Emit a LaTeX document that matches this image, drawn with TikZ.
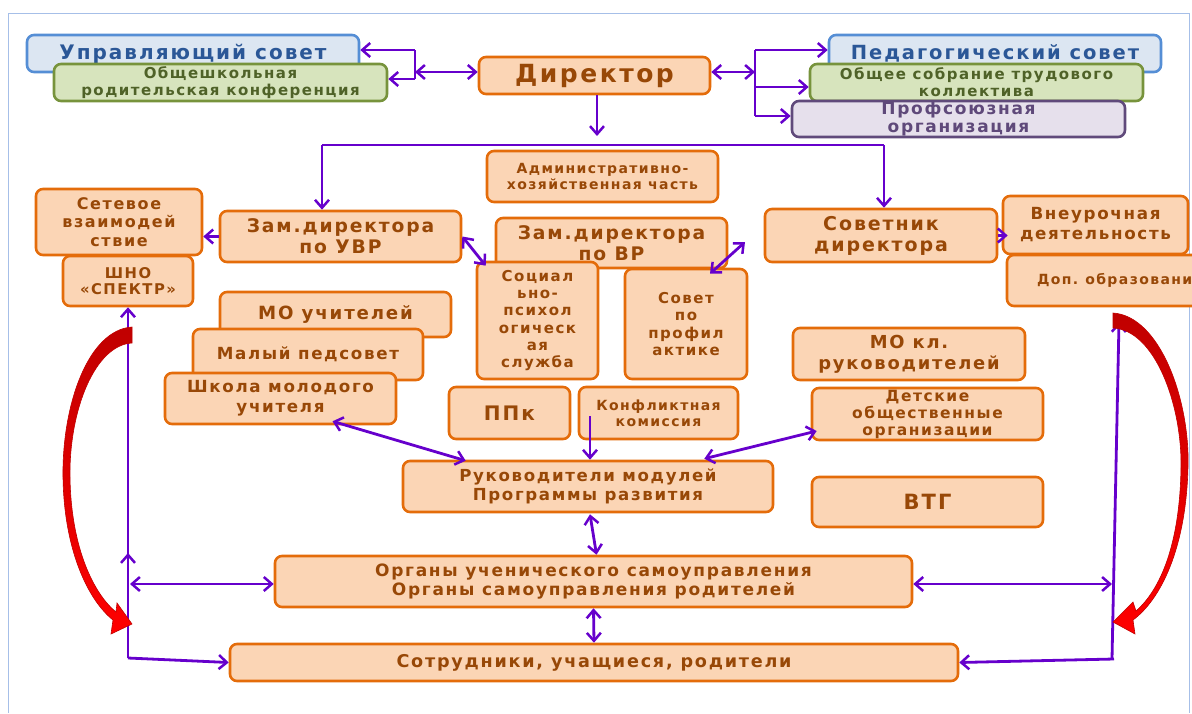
\documentclass[tikz,border=0pt]{standalone}
\usepackage{fontspec}
\setmainfont{DejaVu Sans}[LetterSpace=10]
\usetikzlibrary{arrows.meta}
\definecolor{orfill}{HTML}{FBD5B5}
\definecolor{ordraw}{HTML}{E46C0A}
\definecolor{ortext}{HTML}{984807}
\definecolor{blfill}{HTML}{DCE6F2}
\definecolor{bldraw}{HTML}{558ED5}
\definecolor{bltext}{HTML}{2B5797}
\definecolor{grfill}{HTML}{D7E4BD}
\definecolor{grdraw}{HTML}{77933C}
\definecolor{grtext}{HTML}{4F6228}
\definecolor{pufill}{HTML}{E6E0EC}
\definecolor{pudraw}{HTML}{604A7B}
\definecolor{putext}{HTML}{5F497A}
\definecolor{arrcol}{HTML}{6600CC}
\definecolor{frameblue}{HTML}{A6BFE8}
\definecolor{dred}{HTML}{C00000}
\definecolor{bred}{HTML}{FF0000}
\newcommand\fsz[2]{\fontsize{#1}{#2}\selectfont\bfseries}
\begin{document}
\begin{tikzpicture}[x=1pt,y=-1pt,
  box/.style={rounded corners=7pt, line width=2.6pt, inner sep=0pt, align=center},
  obox/.style={box, draw=ordraw, fill=orfill, text=ortext},
  bbox/.style={box, draw=bldraw, fill=blfill, text=bltext},
  gbox/.style={box, draw=grdraw, fill=grfill, text=grtext},
  pbox/.style={box, draw=pudraw, fill=pufill, text=putext},
  con/.style={draw=arrcol, line width=2.8pt, >={Straight Barb[length=8pt,width=14pt,line width=2.5pt]}},
  redarr/.style={top color=dred, bottom color=bred, draw=dred, line width=0.6pt},
]
\useasboundingbox (0,0) rectangle (1192,713);
\draw[frameblue, line width=1pt] (8,713) -- (8,13) -- (1189,13) -- (1189,713);

% top row
\node[bbox, minimum width=332pt, minimum height=37pt, font=\fsz{20}{23}] (us) at (193,53.5) {Управляющий совет};
\node[gbox, minimum width=333pt, minimum height=37pt, font=\fsz{15}{17}] (orc) at (220.5,82.5) {Общешкольная\\родительская конференция};
\node[obox, minimum width=231pt, minimum height=37pt, font=\fsz{25}{28}] (dir) at (594.5,75.5) {Директор};
\node[bbox, minimum width=332pt, minimum height=37pt, font=\fsz{19.5}{23}] (ps) at (995,53.5) {Педагогический совет};
\node[gbox, minimum width=333pt, minimum height=37pt, font=\fsz{15}{17}] (ostk) at (976.5,82.5) {Общее собрание трудового\\коллектива};
\node[pbox, minimum width=333pt, minimum height=36pt, font=\fsz{17}{18}] (prof) at (958.5,119) {Профсоюзная\\организация};

% second level
\node[obox, minimum width=231pt, minimum height=51pt, font=\fsz{14}{16}] (ahch) at (602.5,176.5) {Административно-\\хозяйственная часть};
\node[obox, minimum width=166pt, minimum height=66pt, font=\fsz{16}{18.5}] (setevoe) at (119,222) {Сетевое\\взаимодей\\ствие};
\node[obox, minimum width=130pt, minimum height=50pt, font=\fsz{14.8}{16}] (shno) at (128,281) {ШНО\\«СПЕКТР»};
\node[obox, minimum width=241pt, minimum height=51pt, font=\fsz{18.7}{21}] (zuvr) at (340.5,236.5) {Зам.директора\\по УВР};
\node[obox, minimum width=231pt, minimum height=50pt, font=\fsz{18.7}{21}] (zvr) at (611.5,243) {Зам.директора\\по ВР};
\node[obox, minimum width=121pt, minimum height=117pt, font=\fsz{15}{17.3}] (sps) at (537.5,320.5) {Социал\\ьно-\\психол\\огическ\\ая\\служба};
\node[obox, minimum width=122pt, minimum height=110pt, font=\fsz{15}{17.3}] (sovprof) at (686,324) {Совет\\по\\профил\\актике};
\node[obox, minimum width=232pt, minimum height=53pt, font=\fsz{19}{21}] (sovetnik) at (881,235.5) {Советник\\директора};
\node[obox, minimum height=51pt, font=\fsz{14}{16}, text width=170pt, inner xsep=30pt, align=left] (dop) at (1122,280.5) {Доп. образовани};
\node[obox, minimum width=185pt, minimum height=58pt, font=\fsz{16.7}{20}] (vneur) at (1095.5,225) {Внеурочная\\деятельность};

% left stack
\node[obox, minimum width=231pt, minimum height=45pt, font=\fsz{18.2}{21}] (mou) at (335.5,314.5) {МО учителей};
\node[obox, minimum width=230pt, minimum height=51pt, font=\fsz{16.7}{20}] (mps) at (308,354.5) {Малый педсовет};
\node[obox, minimum width=231pt, minimum height=51pt, font=\fsz{16.7}{20}] (shmu) at (280.5,398.5) {Школа молодого\\учителя};

% middle row
\node[obox, minimum width=121pt, minimum height=52pt, font=\fsz{20}{22}] (ppk) at (509.5,413) {ППк};
\node[obox, minimum width=159pt, minimum height=52pt, font=\fsz{14}{16}] (konf) at (658.5,413) {Конфликтная\\комиссия};
\node[obox, minimum width=232pt, minimum height=52pt, font=\fsz{17.9}{21}] (mokl) at (909,354) {МО кл.\\руководителей};
\node[obox, minimum width=231pt, minimum height=52pt, font=\fsz{15.5}{17}] (detsk) at (927.5,414) {Детские\\общественные\\организации};

% lower
\node[obox, minimum width=370pt, minimum height=51pt, font=\fsz{16.6}{19}] (ruk) at (588,486.5) {Руководители модулей\\Программы развития};
\node[obox, minimum width=231pt, minimum height=50pt, font=\fsz{21}{23}] (vtg) at (927.5,502) {ВТГ};
\node[obox, minimum width=637pt, minimum height=51pt, font=\fsz{17}{19}] (organy) at (593.5,581.5) {Органы ученического самоуправления\\Органы самоуправления родителей};
\node[obox, minimum width=728pt, minimum height=37pt, font=\fsz{17.6}{19}] (sotr) at (594,662.5) {Сотрудники, учащиеся, родители};

% junction coordinates
\coordinate (jl) at (415,72);
\coordinate (jlt) at (415,50);
\coordinate (jlb) at (415,79);
\coordinate (jr) at (755,72);
\coordinate (jrt) at (755,50);
\coordinate (jrm) at (755,87);
\coordinate (jrb) at (755,116);
\coordinate (dd) at (597,136);
\coordinate (hl) at (322,145);
\coordinate (hr) at (884,145);
\coordinate (vrtip) at (745,242);
\coordinate (lb) at (128,658);
\coordinate (lu) at (128,553);
\coordinate (lm) at (130,584);
\coordinate (rb) at (1112,659);
\coordinate (rt) at (1119,322);
\coordinate (rm) at (1112,584);
\coordinate (kc) at (590,416);

% connectors at top
\draw[con] (jlt) -- (jlb);
\draw[con,<->] (jl) -- (dir.west |- jl);
\draw[con,->] (jlt) -- (us.east |- jlt);
\draw[con,->] (jlb) -- (orc.east |- jlb);
\draw[con] (jrt) -- (jrb);
\draw[con,<->] (dir.east |- jr) -- (jr);
\draw[con,->] (jrt) -- (ps.west |- jrt);
\draw[con,->] (jrm) -- (ostk.west |- jrm);
\draw[con,->] (jrb) -- (prof.west |- jrb);
\draw[con,->] (dir.south -| dd) -- (dd);
\draw[con] (hl) -- (hr);
\draw[con,->] (hl) -- (zuvr.north -| hl);
\draw[con,->] (hr) -- (sovetnik.north -| hr);

% middle connectors
\draw[con,->] (zuvr.west) -- (setevoe.east |- zuvr.west);
\draw[con,<->] (zuvr.east) -- ([shift={(10,5)}]sps.north west);
\draw[con,<->] (vrtip) -- ([shift={(24,6)}]sovprof.north);
\draw[con,->] (sovetnik.east) -- ([xshift=6pt]vneur.west |- sovetnik.east);
\draw[con,<->] ([shift={(52,-4)}]shmu.south) -- ([shift={(64,1)}]ruk.north west);
\draw[con,->] (kc) -- (ruk.north -| kc);
\draw[con,<->] ([shift={(6,17)}]detsk.west) -- ([shift={(-70,-1)}]ruk.north east);
\draw[con,<->] ([shift={(2,1)}]ruk.south) -- ([shift={(3,0)}]organy.north);
\draw[con,<->] (organy.south) -- (sotr.north);

% side lines
\draw[con,->] (lb) -- (shno.south);
\draw[con,->] (lb) -- (lu);
\draw[con,<->] (lm) -- (organy.west |- lm);
\draw[con,->] (lb) -- (sotr.west);
\draw[con,->] (rb) -- (rt);
\draw[con,<->] (organy.east |- rm) -- (rm);
\draw[con,->] ([xshift=2pt]rb) -- (sotr.east);

% red curved arrows
\shade[redarr] (132,327) .. controls (88,330) and (62,405) .. (63,477)
  .. controls (64,550) and (88,600) .. (113,620) -- (111,634) -- (132,624) -- (117,603) -- (116,612)
  .. controls (95,595) and (71,550) .. (70,477) .. controls (69,410) and (95,345) .. (132,343) -- cycle;
\shade[redarr] (1113,313) .. controls (1160,316) and (1190,400) .. (1188,467)
  .. controls (1186,550) and (1160,600) .. (1133,620) -- (1135,634) -- (1113,622) -- (1133,602) -- (1136,611)
  .. controls (1160,590) and (1180,545) .. (1181,467) .. controls (1182,405) and (1155,330) .. (1113,328) -- cycle;
\end{tikzpicture}
\end{document}
